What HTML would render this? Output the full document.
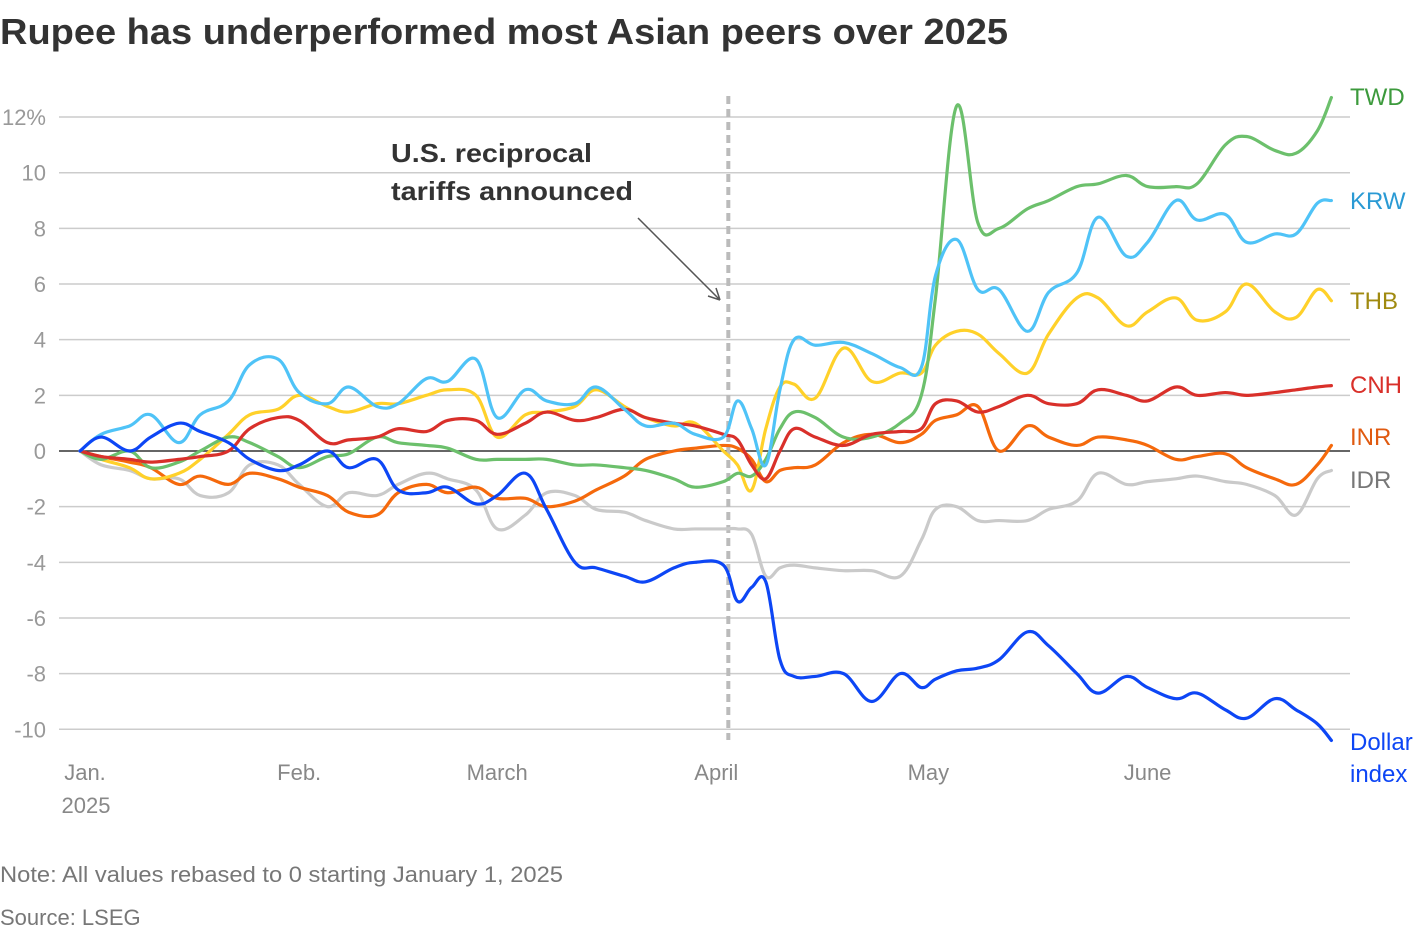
<!DOCTYPE html>
<html><head><meta charset="utf-8">
<style>
html,body{margin:0;padding:0;background:#fff;}
body{width:1420px;height:934px;overflow:hidden;font-family:"Liberation Sans",sans-serif;}
svg text{font-family:"Liberation Sans",sans-serif;}
</style></head>
<body>
<svg id="chart" width="1420" height="934" viewBox="0 0 1420 934" xmlns="http://www.w3.org/2000/svg">
<text x="0" y="44" font-size="36" font-weight="bold" fill="#333" textLength="1008" lengthAdjust="spacingAndGlyphs">Rupee has underperformed most Asian peers over 2025</text>
<g id="grid"></g>
<g id="lines"></g>
<g id="labels"></g>
<text x="0" y="882" font-size="22" fill="#777" textLength="563" lengthAdjust="spacingAndGlyphs">Note: All values rebased to 0 starting January 1, 2025</text>
<text x="0" y="925" font-size="22" fill="#777">Source: LSEG</text>
</svg>
<script>
const days=[0,3,7,10,14,17,21,24,28,31,35,38,42,45,49,52,56,59,63,66,70,73,77,80,84,87,91,93,95,97,99,101,104,108,112,116,119,121,124,127,130,134,137,141,144,148,151,155,158,162,165,169,172,175,177];
const idr=[0,-0.5,-0.7,-1,-1,-1.6,-1.5,-0.5,-0.5,-1.2,-2,-1.5,-1.6,-1.2,-0.8,-1,-1.4,-2.8,-2.3,-1.5,-1.6,-2.1,-2.2,-2.5,-2.8,-2.8,-2.8,-2.8,-3,-4.5,-4.2,-4.1,-4.2,-4.3,-4.3,-4.5,-3.2,-2.1,-2,-2.5,-2.5,-2.5,-2.1,-1.8,-0.8,-1.2,-1.1,-1,-0.9,-1.1,-1.2,-1.6,-2.3,-1,-0.7];
const inr=[0,-0.2,-0.4,-0.6,-1.2,-0.9,-1.2,-0.8,-1,-1.3,-1.6,-2.2,-2.3,-1.5,-1.2,-1.5,-1.3,-1.7,-1.7,-2,-1.8,-1.4,-0.9,-0.3,0,0.1,0.2,0.1,-0.3,-1.1,-0.7,-0.6,-0.5,0.3,0.6,0.3,0.6,1.1,1.3,1.6,0,0.9,0.5,0.2,0.5,0.4,0.2,-0.3,-0.2,-0.1,-0.6,-1,-1.2,-0.5,0.2];
const cnh=[0,-0.2,-0.3,-0.4,-0.3,-0.2,0,0.8,1.2,1.1,0.3,0.4,0.5,0.8,0.7,1.1,1.1,0.6,1,1.4,1.1,1.2,1.5,1.2,1,0.9,0.6,0.4,-0.5,-1,0,0.8,0.5,0.2,0.6,0.7,0.8,1.7,1.8,1.4,1.6,2,1.7,1.7,2.2,2,1.8,2.3,2,2.1,2,2.1,2.2,2.3,2.35];
const thb=[0,-0.3,-0.6,-1,-0.8,-0.3,0.6,1.3,1.5,2,1.6,1.4,1.7,1.7,2,2.2,2,0.5,1.3,1.4,1.6,2.2,1.6,1.2,0.9,1,0,-0.5,-1.4,0.8,2.3,2.4,1.9,3.7,2.5,2.8,2.8,3.8,4.3,4.2,3.5,2.8,4.2,5.5,5.5,4.5,5,5.5,4.7,5,6,5,4.8,5.8,5.4];
const krw=[0,0.6,0.9,1.3,0.3,1.3,1.8,3.1,3.3,2.1,1.7,2.3,1.6,1.7,2.6,2.5,3.3,1.2,2.2,1.8,1.7,2.3,1.5,0.9,1,0.6,0.5,1.8,0.8,-0.5,2.2,4,3.8,3.9,3.5,3,3,6.3,7.6,5.8,5.8,4.3,5.7,6.4,8.4,7,7.5,9,8.3,8.5,7.5,7.8,7.8,8.9,9];
const twd=[0,-0.3,0,-0.6,-0.4,0,0.5,0.3,-0.2,-0.6,-0.2,-0.1,0.5,0.3,0.2,0.1,-0.3,-0.3,-0.3,-0.3,-0.5,-0.5,-0.6,-0.7,-1,-1.3,-1.1,-0.8,-0.9,-0.3,0.8,1.4,1.2,0.5,0.5,1,2,5.5,12.4,8.2,8,8.7,9,9.5,9.6,9.9,9.5,9.5,9.6,11,11.3,10.8,10.7,11.5,12.7];
const dxy=[0,0.5,0,0.5,1,0.7,0.3,-0.3,-0.7,-0.5,0,-0.6,-0.3,-1.4,-1.5,-1.3,-1.9,-1.6,-0.8,-2.1,-4,-4.2,-4.5,-4.7,-4.2,-4,-4.1,-5.4,-4.9,-4.7,-7.5,-8.1,-8.1,-8,-9,-8,-8.5,-8.2,-7.9,-7.8,-7.5,-6.5,-7,-8,-8.7,-8.1,-8.5,-8.9,-8.7,-9.3,-9.6,-8.9,-9.3,-9.8,-10.4];
const yTicks=[12,10,8,6,4,2,0,-2,-4,-6,-8,-10];
const yTickLabels=["12%","10","8","6","4","2","0","-2","-4","-6","-8","-10"];
const monthDays=[0,31,59,90,120,151];
const monthLabels=["Jan.","Feb.","March","April","May","June"];
const tariffDay=91.7;

const X=d=>80+7.07*d;
const Y=v=>451-27.83*v;
const NS="http://www.w3.org/2000/svg";
function mk(tag,attrs,parent,txt){const e=document.createElementNS(NS,tag);for(const k in attrs)e.setAttribute(k,attrs[k]);if(txt!==undefined)e.textContent=txt;parent.appendChild(e);return e;}
const grid=document.getElementById('grid'),lines=document.getElementById('lines'),labels=document.getElementById('labels');
yTicks.forEach((t,i)=>{
  const l=mk('line',{x1:59,x2:1350,y1:Y(t),y2:Y(t),stroke:t===0?'#333':'#ccc','stroke-width':1.5},grid);
  
  
  const tx=mk('text',{x:46,y:Y(t)+8,'text-anchor':'end','font-size':22,fill:'#999'},grid,yTickLabels[i]);
  
  
});
monthDays.forEach((d,i)=>{
  const tx=mk('text',{x:X(d)+(i===0?5:0),y:780,'text-anchor':'middle','font-size':22,fill:'#888'},grid,monthLabels[i]);
  
  
});
const yr=mk('text',{x:86,y:813,'text-anchor':'middle','font-size':22,fill:'#888'},grid,'2025');


const dl=mk('line',{x1:X(tariffDay),x2:X(tariffDay),y1:96,y2:740,stroke:'#bbb','stroke-width':4,'stroke-dasharray':'8,5'},grid);


const a1=mk('text',{x:391,y:162,'font-size':26,'font-weight':'bold',fill:'#333',textLength:201,lengthAdjust:'spacingAndGlyphs'},grid,'U.S. reciprocal');


const a2=mk('text',{x:391,y:200,'font-size':26,'font-weight':'bold',fill:'#333',textLength:242,lengthAdjust:'spacingAndGlyphs'},grid,'tariffs announced');


const ar=mk('path',{d:'M638,218 L720,300 M720,300 L708,296 M720,300 L716,288',stroke:'#555','stroke-width':1.5,fill:'none'},grid);



function smooth(pts){let d=`M${pts[0][0]},${pts[0][1]}`;for(let i=0;i<pts.length-1;i++){const p0=pts[i-1]||pts[i],p1=pts[i],p2=pts[i+1],p3=pts[i+2]||p2;const t=0.18;d+=` C${p1[0]+(p2[0]-p0[0])*t},${p1[1]+(p2[1]-p0[1])*t} ${p2[0]-(p3[0]-p1[0])*t},${p2[1]-(p3[1]-p1[1])*t} ${p2[0]},${p2[1]}`;}return d;}
const series=[
 {name:'IDR',vals:idr,color:'#cacaca',lc:'#777',ly:480},
 {name:'INR',vals:inr,color:'#f5690c',lc:'#e05a10',ly:437},
 {name:'THB',vals:thb,color:'#ffd12a',lc:'#a08a10',ly:301},
 {name:'TWD',vals:twd,color:'#6cc06c',lc:'#3c9a3c',ly:97},
 {name:'CNH',vals:cnh,color:'#d9302a',lc:'#d9302a',ly:385},
 {name:'KRW',vals:krw,color:'#4fc3f7',lc:'#2a9ad4',ly:201},
 {name:'Dollar',vals:dxy,color:'#0d46f5',lc:'#0d46f5',ly:742}
];
series.forEach(s=>{
  const pts=days.map((d,i)=>[X(d),Y(s.vals[i])]);
  const p=mk('path',{d:smooth(pts),fill:'none',stroke:s.color,'stroke-width':3.2,'stroke-linejoin':'round','stroke-linecap':'round'},lines);
  
  
  const t=mk('text',{x:1350,y:s.ly+8,'font-size':24,fill:s.lc},labels,s.name);
  
  
  if(s.name==='Dollar'){
    const t2=mk('text',{x:1350,y:782,'font-size':24,fill:s.lc},labels,'index');
    
    
  }
});
</script>
</body></html>
